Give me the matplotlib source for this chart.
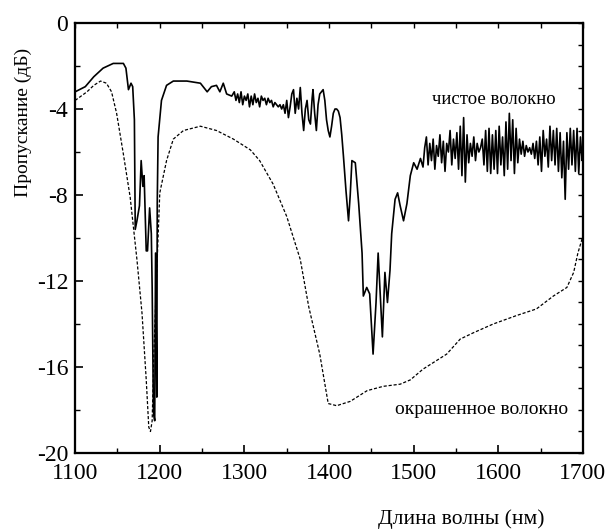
import numpy as np
import matplotlib
matplotlib.use("Agg")
import matplotlib.pyplot as plt

plt.rcParams['font.family'] = ['Liberation Serif', 'DejaVu Serif']

# чистое волокно (сплошная линия)
wl_clean = [1100, 1112, 1122, 1133, 1145, 1157, 1160, 1163, 1166, 1168, 1170, 1171, 1173, 1176, 1178,
            1180, 1181.5, 1184, 1185.5, 1188, 1190, 1191, 1192.5, 1194, 1195, 1196.5, 1197, 1198, 1202,
            1208, 1216, 1232, 1248, 1256, 1261, 1267, 1271, 1275, 1279, 1285,
            1288, 1290, 1292, 1294, 1296, 1298, 1300, 1302, 1304, 1306, 1308, 1310, 1312, 1314, 1316,
            1318, 1320, 1322, 1324, 1326, 1328, 1330, 1332, 1334, 1336, 1338, 1340, 1342, 1344, 1346,
            1348, 1350, 1352, 1354, 1356, 1358, 1360, 1362, 1364, 1366, 1368, 1370, 1372, 1374, 1376,
            1378, 1380, 1381, 1383, 1385, 1387, 1389, 1391, 1393, 1395, 1397, 1399, 1401, 1403, 1405,
            1407, 1409, 1411, 1413, 1415, 1417, 1420, 1423, 1425, 1427, 1431, 1435, 1439, 1440.5,
            1444.5, 1448, 1452, 1455.5, 1458, 1460, 1463, 1466, 1469, 1472, 1474, 1478, 1481, 1484,
            1488, 1492, 1496, 1500, 1504, 1508, 1511, 1513,
            1515, 1517, 1519, 1521, 1523, 1525, 1527, 1529, 1531, 1533, 1535, 1537, 1539, 1541, 1543,
            1545, 1547, 1549, 1551, 1553, 1555, 1557, 1559, 1561, 1563, 1565, 1567, 1569, 1571, 1573,
            1575, 1577, 1579, 1581, 1583, 1585, 1587, 1589, 1591, 1593, 1595, 1597, 1599, 1601, 1603,
            1605, 1607, 1609, 1611, 1613, 1615, 1617, 1619, 1621, 1623, 1625, 1627, 1629, 1631, 1633,
            1635, 1637, 1639, 1641, 1643, 1645, 1647, 1649, 1651, 1653, 1655, 1657, 1659, 1661, 1663,
            1665, 1667, 1669, 1671, 1673, 1675, 1677, 1679, 1681, 1683, 1685, 1687, 1689, 1691, 1693,
            1695, 1697, 1699, 1700]
t_clean = [-3.2, -2.96, -2.5, -2.1, -1.88, -1.88, -2.1, -3.1, -2.8, -2.96, -4.5, -9.6, -9.2, -8.5, -6.4,
           -7.6, -7.1, -10.6, -10.6, -8.6, -9.8, -12.3, -18.1, -18.5, -10.7, -17.4, -8.4, -5.3, -3.6,
           -2.9, -2.7, -2.7, -2.8, -3.2, -2.96, -2.9, -3.2, -2.8, -3.3, -3.4,
           -3.2, -3.6, -3.3, -3.7, -3.2, -3.8, -3.4, -3.6, -3.3, -3.9, -3.4, -3.8, -3.3, -3.7, -3.5,
           -3.9, -3.4, -3.6, -3.5, -3.8, -3.5, -3.7, -3.6, -3.9, -3.7, -3.8, -3.9, -3.8, -4.0, -3.8,
           -4.2, -3.6, -4.4, -3.9, -3.3, -3.1, -4.2, -3.5, -4.0, -3.0, -4.2, -5.0, -4.0, -3.6, -4.5,
           -4.7, -3.5, -3.1, -4.2, -5.0, -3.8, -3.3, -3.2, -3.1, -3.6, -4.5, -5.0, -5.3, -4.8, -4.2,
           -4.0, -4.0, -4.1, -4.4, -5.2, -6.2, -7.8, -9.2, -8.0, -6.4, -6.5, -8.4, -10.7, -12.7,
           -12.3, -12.6, -15.4, -13.0, -10.7, -12.3, -14.6, -11.6, -13.0, -11.5, -9.8, -8.2, -7.9, -8.5,
           -9.2, -8.4, -7.1, -6.5, -6.8, -6.3, -6.7, -5.8,
           -5.3, -6.6, -5.6, -6.4, -5.4, -6.8, -5.7, -6.2, -5.2, -6.5, -5.5, -6.9, -5.6, -6.0, -5.0,
           -6.6, -5.4, -6.3, -5.1, -6.8, -4.8, -7.1, -4.4, -7.4, -5.2, -6.5, -5.6, -6.2, -5.3, -6.4,
           -5.6, -6.0, -5.8, -5.4, -6.6, -5.0, -6.9, -4.9, -7.0, -5.2, -6.8, -5.0, -7.0, -4.8, -6.6,
           -5.3, -7.1, -4.6, -6.8, -4.2, -6.4, -4.5, -7.0, -4.9, -6.5, -5.4, -6.1, -5.5, -6.2, -5.7,
           -6.0, -5.8, -6.1, -5.6, -6.3, -5.5, -6.6, -5.3, -6.9, -5.0, -6.2, -5.4, -6.7, -4.8, -6.4,
           -5.0, -6.6, -4.9, -6.9, -5.1, -7.2, -5.5, -8.2, -5.1, -6.8, -4.9, -6.6, -5.0, -6.9, -4.9,
           -7.0, -5.3, -6.4, -6.1]

# окрашенное волокно (пунктир)
wl_dyed = [1100, 1114, 1122, 1130, 1137, 1143, 1149, 1157, 1165, 1173, 1179, 1184, 1187, 1189, 1191,
           1193, 1196.5, 1200, 1208, 1216, 1228, 1248, 1267, 1287, 1307, 1318, 1334, 1350, 1366, 1376,
           1389, 1399, 1409, 1425, 1445, 1464, 1484, 1496, 1511, 1523, 1539, 1555, 1571, 1594, 1622,
           1645, 1665, 1681, 1689, 1694, 1700]
t_dyed = [-3.6, -3.2, -2.9, -2.7, -2.8, -3.2, -4.2, -6.1, -8.1, -11.0, -13.5, -16.6, -18.8, -19.0, -18.5,
          -15.4, -11.5, -7.9, -6.4, -5.4, -5.0, -4.8, -5.0, -5.4, -5.9, -6.4, -7.5, -9.0, -11.0, -13.2,
          -15.4, -17.7, -17.8, -17.6, -17.1, -16.9, -16.8, -16.6, -16.1, -15.8, -15.4, -14.7, -14.4, -14.0, -13.6,
          -13.3, -12.7, -12.3, -11.6, -10.7, -9.9]

fig = plt.figure(figsize=(6.06, 5.29), dpi=100)
ax = fig.add_axes([0.124, 0.1437, 0.838, 0.8128])

ax.plot(wl_clean, t_clean, color='black', lw=1.2)
ax.plot(wl_dyed, t_dyed, color='black', lw=0.9, linestyle=(0, (2.5, 1.5)))

ax.set_xlim(1100, 1700)
ax.set_ylim(-20, 0)
ax.set_xticks(np.arange(1100, 1701, 100))
ax.set_xticks(np.arange(1150, 1700, 100), minor=True)
ax.set_yticks(np.arange(-20, 1, 4))
ax.set_yticks(np.arange(-18, 0, 4), minor=True)
ax.set_yticklabels([str(v) for v in range(-20, 1, 4)])
ax.tick_params(which='major', direction='in', length=6, width=1.2, labelsize=17)
ax.tick_params(which='minor', direction='in', length=3.5, width=1.0)
ax.tick_params(axis='x', which='major', pad=7)
ax.tick_params(axis='y', which='major', pad=5)

# верхняя и правая оси
axr = ax.twinx()
axr.set_ylim(-20, 0)
axr.set_yticks(np.arange(-20, 1, 1))
axr.tick_params(direction='in', length=3.5, width=1.0, labelright=False)
axt = ax.twiny()
axt.set_xlim(1100, 1700)
axt.set_xticks(np.arange(1100, 1701, 50))
axt.tick_params(direction='in', length=3.5, width=1.0, labeltop=False)

for a in (ax, axr, axt):
    for s in a.spines.values():
        s.set_linewidth(1.5)

fig.text(23 / 606, 1 - 122 / 529, 'Пропускание (дБ)', fontsize=14, rotation=90,
         ha='center', va='center')
fig.text(461 / 606, 1 - 524 / 529, 'Длина волны (нм)', fontsize=15.5, ha='center', va='baseline')

ax.text(1522, -3.55, 'чистое волокно', fontsize=13.5, ha='left', va='center')
ax.text(1478, -18.0, 'окрашенное волокно', fontsize=14, ha='left', va='center')

fig.savefig('out.png', dpi=100)
